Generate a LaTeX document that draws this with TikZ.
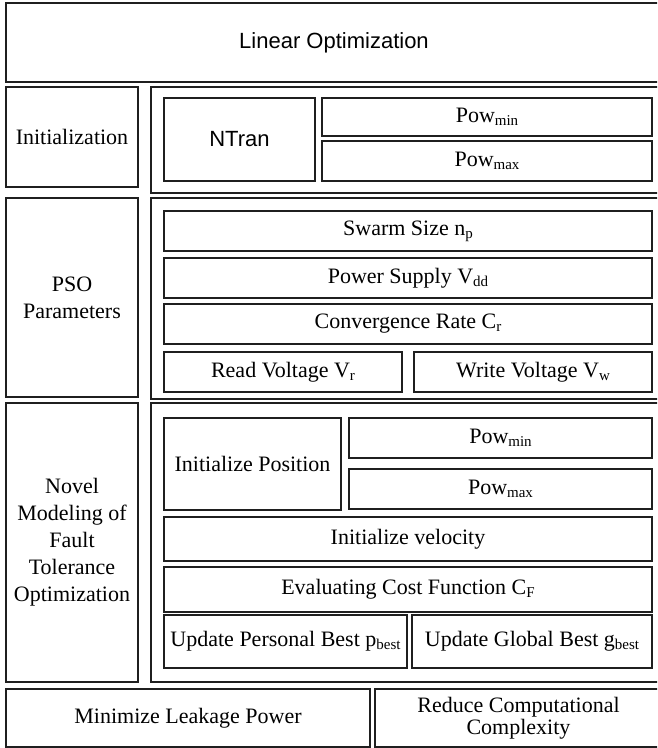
\documentclass[tikz,border=0pt]{standalone}
\usepackage{fontspec}
\setmainfont{Liberation Serif}
\newfontfamily\headfont{Liberation Sans}
\newcommand\lowsub[1]{\raisebox{-3pt}{\fontsize{15}{15}\selectfont #1}}
\begin{document}
\begin{tikzpicture}[x=1pt,y=-1pt,
  box/.style={draw=black!88,line width=1.8pt,rectangle,inner sep=0pt,
    align=center,font=\fontsize{22}{26}\selectfont},
  sansbox/.style={box,font=\headfont\fontsize{22}{26}\selectfont}]
\clip (0,0) rectangle (657,748);
% header
\node[sansbox,minimum width=656,minimum height=79] (lin) at (334,42.5) {Linear Optimization};
% initialization block
\node[box,minimum width=132,minimum height=100] (initL) at (72,137) {Initialization};
\node[box,minimum width=511,minimum height=106] (initC) at (406.5,140) {};
\node[sansbox,minimum width=151,minimum height=83] (ntran) at (239.5,139.5) {NTran};
\node[box,minimum width=330,minimum height=38] (pmina) at (487,117) {Pow\lowsub{min}};
\node[box,minimum width=330,minimum height=40] (pmaxa) at (487,161) {Pow\lowsub{max}};
% PSO parameters block
\node[box,minimum width=132,minimum height=199,font=\fontsize{22}{27}\selectfont] (psoL) at (72,297.5) {PSO\\Parameters};
\node[box,minimum width=511,minimum height=201] (psoC) at (406.5,298.5) {};
\node[box,minimum width=488,minimum height=40] (swarm) at (408,231) {Swarm Size n\lowsub{p}};
\node[box,minimum width=488,minimum height=40] (vdd) at (408,278) {Power Supply V\lowsub{dd}};
\node[box,minimum width=488,minimum height=40] (conv) at (408,324) {Convergence Rate C\lowsub{r}};
\node[box,minimum width=238,minimum height=40] (readv) at (283,372) {Read Voltage V\lowsub{r}};
\node[box,minimum width=238,minimum height=40] (writev) at (533,372) {Write Voltage V\lowsub{w}};
% fault tolerance block
\node[box,minimum width=132,minimum height=279,font=\fontsize{22}{27}\selectfont] (novL) at (72,542.5) {Novel\\Modeling of\\Fault\\Tolerance\\Optimization};
\node[box,minimum width=511,minimum height=279] (novC) at (406.5,542.5) {};
\node[box,minimum width=177,minimum height=92] (ipos) at (252.5,464) {Initialize Position};
\node[box,minimum width=303,minimum height=40] (pminb) at (500.5,438) {Pow\lowsub{min}};
\node[box,minimum width=303,minimum height=40] (pmaxb) at (500.5,489) {Pow\lowsub{max}};
\node[box,minimum width=488,minimum height=44] (vel) at (408,539) {Initialize velocity};
\node[box,minimum width=488,minimum height=45] (cost) at (408,589.5) {Evaluating Cost Function C\lowsub{F}};
\node[box,minimum width=243,minimum height=53] (pbest) at (285.5,641.5) {Update Personal Best p\lowsub{best}};
\node[box,minimum width=240,minimum height=53] (gbest) at (532,641.5) {Update Global Best g\lowsub{best}};
% outcomes
\node[box,minimum width=364,minimum height=58] (leak) at (188,718) {Minimize Leakage Power};
\node[box,minimum width=287,minimum height=58,font=\fontsize{22}{22}\selectfont] (cplx) at (518.5,718) {Reduce Computational\\Complexity};
\end{tikzpicture}
\end{document}
